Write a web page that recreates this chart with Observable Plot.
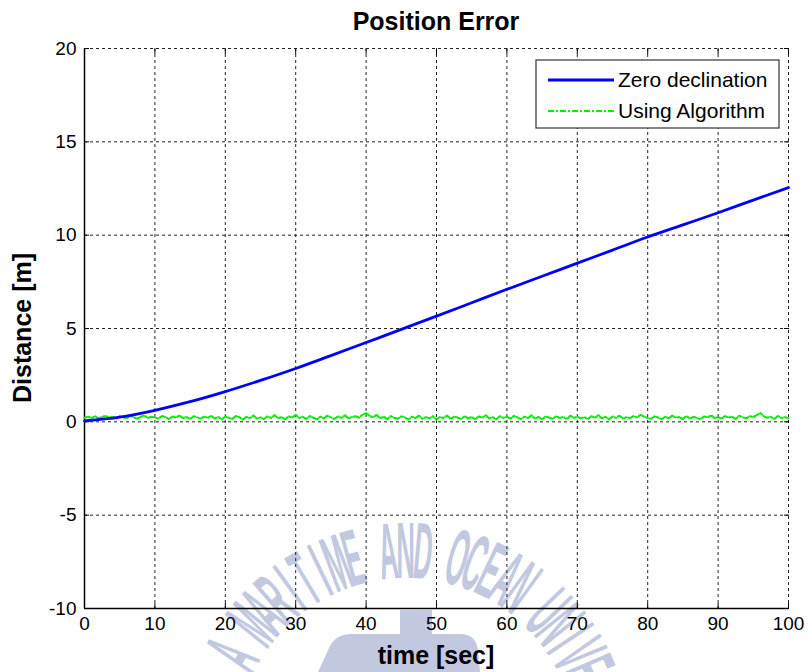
<!DOCTYPE html>
<html>
<head>
<meta charset="utf-8">
<script src="https://cdn.jsdelivr.net/npm/d3@7"></script>
<script src="https://cdn.jsdelivr.net/npm/@observablehq/plot@0.6"></script>
<style>
  body { margin: 0; background: #fff; }
  #chart svg { display: block; }
</style>
</head>
<body>
<div id="chart"></div>
<script>
// Axis ticks
const xTicks = [0, 10, 20, 30, 40, 50, 60, 70, 80, 90, 100];
const yTicks = [-10, -5, 0, 5, 10, 15, 20];

// Series names
const seriesNames = ["Zero declination", "Using Algorithm"];

// Zero declination: position error sampled every 5 s
const zeroTime = [0, 5, 10, 15, 20, 25, 30, 35, 40, 45, 50, 55, 60, 65, 70, 75, 80, 85, 90, 95, 100];
const zeroDist = [0.05, 0.25, 0.62, 1.08, 1.62, 2.22, 2.86, 3.55, 4.25, 4.95, 5.66, 6.38, 7.1, 7.8, 8.5, 9.2, 9.9, 10.55, 11.2, 11.88, 12.55];

// Using Algorithm: position error sampled every 0.5 s
const algoStep = 0.5;
const algoDist = [
  0.22,0.28,0.20,0.31,0.18,0.26,0.33,0.21,0.29,0.17,0.30,0.24,0.19,0.32,0.25,0.16,0.28,0.34,0.20,0.27,0.23,
  0.18,0.31,0.26,0.14,0.29,0.22,0.35,0.19,0.27,0.15,0.30,0.24,0.17,0.28,0.21,0.33,0.18,0.26,0.13,0.29,
  0.22,0.16,0.31,0.25,0.12,0.27,0.20,0.34,0.18,0.24,0.15,0.29,0.21,0.36,0.19,0.26,0.14,0.30,0.23,0.38,
  0.20,0.27,0.16,0.31,0.22,0.13,0.28,0.19,0.33,0.24,0.15,0.29,0.21,0.35,0.18,0.26,0.30,0.22,0.39,0.46,
  0.32,0.25,0.37,0.19,0.28,0.14,0.31,0.22,0.17,0.29,0.24,0.12,0.27,0.20,0.33,0.16,0.25,0.19,0.30,0.13,
  0.26,0.21,0.34,0.17,0.28,0.23,0.15,0.31,0.19,0.26,0.13,0.29,0.22,0.36,0.18,0.25,0.14,0.30,0.21,0.27,
  0.17,0.32,0.24,0.15,0.28,0.20,0.35,0.18,0.26,0.13,0.29,0.23,0.16,0.31,0.20,0.27,0.14,0.33,0.22,0.28,
  0.19,0.25,0.15,0.30,0.22,0.36,0.18,0.27,0.13,0.29,0.21,0.33,0.17,0.26,0.20,0.31,0.24,0.38,0.27,0.21,
  0.16,0.30,0.23,0.14,0.28,0.19,0.34,0.22,0.26,0.15,0.31,0.18,0.27,0.21,0.13,0.29,0.24,0.35,0.20,0.26,
  0.17,0.31,0.22,0.28,0.15,0.33,0.24,0.19,0.30,0.26,0.36,0.48,0.29,0.22,0.27,0.16,0.31,0.21,0.25,0.18
];

const titleText = "Position Error";
const xLabel = "time [sec]";
const yLabel = "Distance [m]";
const watermarkText = "KOREA MARITIME AND OCEAN UNIVERSITY";

const zeroData = zeroTime.map((t, i) => ({t, d: zeroDist[i]}));
const algoData = algoDist.map((d, i) => ({t: i * algoStep, d}));

const colors = {zero: "#0000ff", algo: "#00f000"};
const font = "'Liberation Sans', Arial, sans-serif";

const W = 808, H = 672;
const M = {top: 48, right: 20, bottom: 64, left: 84};

const chart = Plot.plot({
  width: W,
  height: H,
  marginTop: M.top,
  marginRight: M.right,
  marginBottom: M.bottom,
  marginLeft: M.left,
  style: {fontFamily: font, fontSize: "19px", color: "#000", background: "transparent", overflow: "visible"},
  x: {domain: [0, 100], ticks: xTicks},
  y: {domain: [-10, 20], ticks: yTicks},
  marks: [
    // dashed grid (also forms the top and right border)
    Plot.ruleX(xTicks, {stroke: "#222", strokeWidth: 1, strokeDasharray: "3,3"}),
    Plot.ruleY(yTicks, {stroke: "#222", strokeWidth: 1, strokeDasharray: "3,3"}),
    // solid left and bottom axis lines
    Plot.ruleX([0], {stroke: "#000", strokeWidth: 1.5}),
    Plot.ruleY([-10], {stroke: "#000", strokeWidth: 1.5}),
    // inward tick marks
    Plot.axisX({ticks: xTicks, anchor: "bottom", tickSize: -5, tickFormat: () => "", label: null}),
    Plot.axisX({ticks: xTicks, anchor: "top", tickSize: -5, tickFormat: () => "", label: null}),
    Plot.axisY({ticks: yTicks, anchor: "left", tickSize: -5, tickFormat: () => "", label: null}),
    Plot.axisY({ticks: yTicks, anchor: "right", tickSize: -5, tickFormat: () => "", label: null}),
    // tick labels (plain hyphen-minus)
    Plot.axisX({ticks: xTicks, anchor: "bottom", tickSize: 0, tickPadding: 8, label: null, tickFormat: d => String(d)}),
    Plot.axisY({ticks: yTicks, anchor: "left", tickSize: 0, tickPadding: 8, label: null, tickFormat: d => String(d)}),
    // series
    Plot.line(algoData, {x: "t", y: "d", stroke: colors.algo, strokeWidth: 2, strokeDasharray: "6,2,2,2"}),
    Plot.line(zeroData, {x: "t", y: "d", stroke: colors.zero, strokeWidth: 2.8, curve: "catmull-rom"})
  ]
});

const svg = d3.select(chart);

// faint university watermark behind the chart: letters set along an arc
const wm = svg.insert("g", ":first-child").attr("fill", "#c2c8e0");
const wmCx = 406, wmCy = 748, wmR = 170, wmStep = 0.0896, wmShift = 0.088;
const chars = Array.from(watermarkText);
const mid = chars.indexOf("D");
chars.forEach((ch, i) => {
  const a = wmShift + (i - mid) * wmStep;
  const x = wmCx + wmR * Math.sin(a);
  const y = wmCy - wmR * Math.cos(a);
  if (y > 680.9) return; // below the bottom edge of the page
  wm.append("text")
    .attr("transform", `translate(${x},${y}) rotate(${a * 180 / Math.PI}) scale(0.32,1)`)
    .attr("text-anchor", "middle")
    .attr("font-family", font)
    .attr("font-weight", "bold")
    .attr("font-size", 80)
    .text(ch);
});
wm.append("path")
  .attr("d", "M318,672 L330,646 Q336,634 352,634 L400,634 L400,610 L432,610 L432,634 L460,634 Q476,634 478,650 L480,672 Z");

// title and axis labels
const labelFont = (sel) => sel.attr("font-family", font).attr("font-weight", "bold").attr("font-size", 25).attr("text-anchor", "middle");

svg.append("text")
  .call(labelFont)
  .attr("x", M.left + (W - M.left - M.right) / 2)
  .attr("y", 30)
  .text(titleText);

svg.append("text")
  .call(labelFont)
  .attr("x", M.left + (W - M.left - M.right) / 2)
  .attr("y", 664)
  .text(xLabel);

svg.append("text")
  .call(labelFont)
  .attr("transform", `translate(31,${M.top + (H - M.top - M.bottom) / 2}) rotate(-90)`)
  .text(yLabel);

// legend box
const lg = svg.append("g").attr("font-family", font).attr("font-size", 21);
lg.append("rect")
  .attr("x", 536).attr("y", 60).attr("width", 243).attr("height", 68)
  .attr("fill", "#fff").attr("stroke", "#333").attr("stroke-width", 1.2);
const legendItems = [
  {name: seriesNames[0], color: colors.zero, dash: null, width: 2.8},
  {name: seriesNames[1], color: colors.algo, dash: "6,2,2,2", width: 2}
];
legendItems.forEach((it, i) => {
  const y = 80 + i * 31;
  lg.append("line")
    .attr("x1", 548).attr("x2", 614).attr("y1", y).attr("y2", y)
    .attr("stroke", it.color).attr("stroke-width", it.width)
    .attr("stroke-dasharray", it.dash);
  lg.append("text")
    .attr("x", 618).attr("y", y + 7)
    .attr("text-anchor", "start")
    .text(it.name);
});

document.getElementById("chart").appendChild(chart);
</script>
</body>
</html>
